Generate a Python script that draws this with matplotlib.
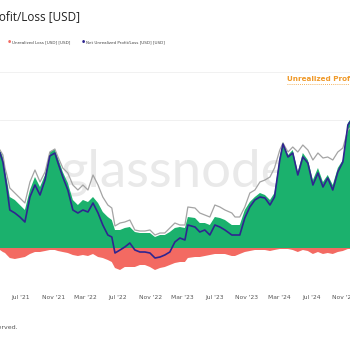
import matplotlib
matplotlib.use("Agg")
import matplotlib.pyplot as plt
import matplotlib.dates as mdates
import numpy as np
import pandas as pd

# values in billions USD
dates = ["2021-04-13", "2021-04-24", "2021-05-02", "2021-05-09", "2021-05-20", "2021-06-08",
         "2021-06-27", "2021-07-16", "2021-08-04", "2021-08-23", "2021-09-11", "2021-09-30",
         "2021-10-18", "2021-11-06", "2021-11-18", "2021-12-06", "2021-12-25", "2022-01-13",
         "2022-02-01", "2022-02-20", "2022-03-11", "2022-03-30", "2022-04-18", "2022-05-06",
         "2022-05-25", "2022-06-09", "2022-06-21", "2022-07-10", "2022-07-28", "2022-08-16",
         "2022-09-04", "2022-09-23", "2022-10-12", "2022-10-31", "2022-11-19", "2022-12-08",
         "2022-12-26", "2023-01-14", "2023-02-02", "2023-02-21", "2023-03-12", "2023-03-23",
         "2023-04-19", "2023-05-07", "2023-05-26", "2023-06-14", "2023-07-03", "2023-07-22",
         "2023-08-10", "2023-09-05", "2023-09-17", "2023-10-05", "2023-10-24", "2023-11-12",
         "2023-12-01", "2023-12-20", "2024-01-08", "2024-01-27", "2024-02-13", "2024-03-04",
         "2024-03-16", "2024-04-04", "2024-04-22", "2024-05-11", "2024-05-30", "2024-06-18",
         "2024-07-07", "2024-07-26", "2024-08-14", "2024-09-01", "2024-09-20", "2024-10-09",
         "2024-10-28", "2024-11-16", "2024-11-24"]

gray_line = [686, 651, 560, 511, 420, 385, 350, 315, 462, 546, 462, 532,
             672, 693, 637, 560, 525, 441, 406, 441, 406, 511, 441, 357,
             301, 280, 154, 175, 182, 196, 126, 119, 119, 126, 91, 105,
             105, 140, 175, 161, 161, 287, 280, 245, 231, 217, 301, 287,
             266, 245, 217, 217, 287, 385, 406, 462, 476, 497, 560, 686,
             735, 672, 707, 672, 721, 686, 616, 665, 630, 637, 616, 672,
             700, 826, 840]

unrealized_profit = [686, 637, 546, 476, 357, 336, 301, 266, 406, 497, 427, 511,
                     672, 693, 630, 532, 455, 336, 301, 336, 322, 357, 315, 252,
                     217, 196, 126, 126, 140, 147, 112, 105, 105, 105, 77, 91,
                     91, 112, 140, 147, 140, 217, 210, 175, 175, 161, 217, 210,
                     196, 161, 161, 161, 266, 322, 357, 385, 371, 336, 385, 637,
                     742, 651, 686, 532, 665, 616, 476, 560, 462, 511, 441, 560,
                     616, 875, 896]

unrealized_loss = [-14, -28, -35, -49, -70, -77, -70, -63, -42, -28, -28, -21,
                   -14, -14, -21, -28, -35, -49, -56, -49, -56, -42, -63, -70,
                   -84, -98, -140, -154, -133, -133, -133, -119, -119, -133, -154, -140,
                   -133, -119, -105, -98, -98, -70, -63, -63, -56, -49, -42, -42,
                   -42, -56, -56, -42, -28, -21, -14, -14, -14, -21, -14, -7,
                   -7, -7, -14, -28, -14, -21, -42, -28, -42, -35, -42, -28,
                   -21, -7, -7]

net_unrealized = [665, 602, 504, 420, 266, 245, 217, 182, 357, 441, 371, 476,
                  644, 665, 595, 497, 406, 266, 245, 266, 252, 315, 245, 161,
                  91, 77, -35, -14, 7, 35, -14, -28, -28, -35, -70, -63,
                  -49, -28, 42, 70, 56, 161, 147, 112, 126, 91, 161, 147,
                  126, 91, 91, 91, 210, 287, 336, 357, 350, 301, 357, 616,
                  728, 637, 665, 511, 637, 595, 441, 525, 427, 490, 406, 532,
                  602, 861, 882]

t = pd.to_datetime(dates)

GREEN = "#1bb16d"
RED = "#f36a62"
BLUE = "#2f2590"
GRAY = "#a4a4a4"

fig = plt.figure(figsize=(3.5, 3.5), dpi=100)
ax = fig.add_axes([0, 65 / 350, 1, 225 / 350])

ax.fill_between(t, 0, unrealized_profit, color=GREEN, lw=0, zorder=2)
ax.fill_between(t, 0, unrealized_loss, color=RED, lw=0, zorder=2)
ax.plot(t, gray_line, color=GRAY, lw=0.9, zorder=3)
ax.plot(t, net_unrealized, color=BLUE, lw=1.2, zorder=4)

ax.set_xlim(t[0], t[-1])
ax.set_ylim(-259, 1316)
ax.set_yticks([-259, 896, 1232])
ax.set_yticklabels([])
ax.grid(axis="y", color="#eeeeee", lw=0.6, zorder=0)
ax.tick_params(axis="y", length=0)
for s in ax.spines.values():
    s.set_visible(False)

ax.xaxis.set_major_locator(mdates.MonthLocator(bymonth=[3, 7, 11]))
ax.xaxis.set_major_formatter(mdates.DateFormatter("%b '%y"))
ax.tick_params(axis="x", length=0, pad=7, labelsize=4.3, labelcolor="#555555")

# watermark
ax.text(0.50, 0.50, "glassnode", transform=ax.transAxes, fontsize=38,
        family="Lato", color="#e9e9e9", ha="center", va="center", zorder=1)

# header
fig.text(80 / 350, 1 - 17 / 350, "Unrealized Profit/Loss [USD]", ha="right", va="center",
         fontsize=8.5, family="Open Sans", color="#222222")
fig.text(8 / 350, 1 - 42 / 350, "\u25cf", color=RED, fontsize=2.6, va="center")
fig.text(12 / 350, 1 - 42 / 350, "Unrealized Loss [USD] [USD]", color="#444444",
         fontsize=3.0, va="center")
fig.text(82 / 350, 1 - 42 / 350, "\u25cf", color=BLUE, fontsize=2.6, va="center")
fig.text(86 / 350, 1 - 42 / 350, "Net Unrealized Profit/Loss [USD] [USD]", color="#444444",
         fontsize=3.0, va="center")
fig.add_artist(plt.Line2D([0, 1], [1 - 72 / 350] * 2, color="#f2f2f2", lw=0.6))

fig.text(287 / 350, 1 - 79 / 350, "Unrealized Profit/Loss", color="#f09a2a",
         fontsize=5.2, fontweight="bold", va="center")
fig.add_artist(plt.Line2D([287 / 350, 1], [1 - 84 / 350] * 2, color="#f09a2a",
                          lw=0.6, ls=(0, (1, 1.5))))

fig.text(18 / 350, 1 - 327 / 350, "\u00a9 2024 Glassnode. All Rights Reserved.",
         ha="right", va="center", fontsize=4.5, color="#555555")

fig.savefig("out.png", dpi=100)
